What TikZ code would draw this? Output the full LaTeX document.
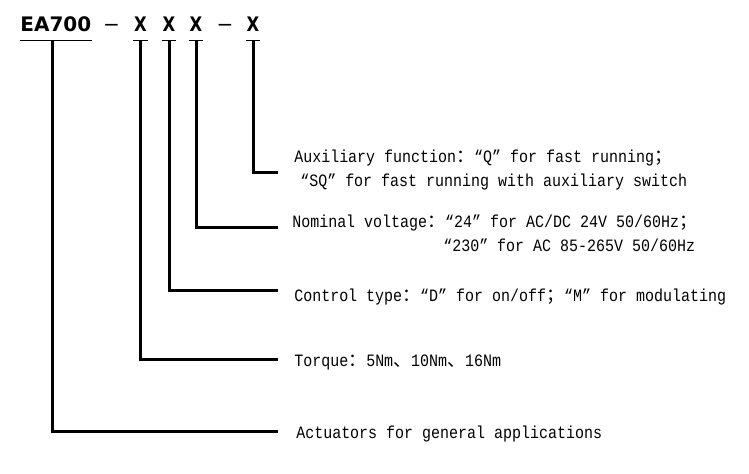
\documentclass[tikz,border=0pt]{standalone}
\usepackage{fontspec}
\setmainfont{Liberation Mono}[FakeStretch=0.865]
\newfontfamily\cjk{Noto Sans CJK SC}
\newfontfamily\headfont{DejaVu Sans}
\newfontfamily\headx{DejaVu Sans}[FakeStretch=0.82]
\newcommand{\cp}[1]{{\cjk\fontsize{13.5pt}{16pt}\selectfont #1}}

\begin{document}
\begin{tikzpicture}[x=0.75pt,y=-0.75pt,
    lead/.style={line width=2.25pt},
    uline/.style={line width=1pt},
    code/.style={font=\headfont\bfseries\fontsize{15pt}{18pt}\selectfont,inner xsep=0.5pt,inner ysep=6pt,anchor=base},
    digit/.style={code,font=\headx\bfseries\fontsize{15pt}{18pt}\selectfont},
    sepmark/.style={font=\headfont\fontsize{15pt}{18pt}\selectfont,inner sep=0pt,anchor=base},
    desc/.style={font=\fontsize{13pt}{16pt}\selectfont,inner sep=0pt,anchor=base west}]
    \useasboundingbox (0,0) rectangle (749,474);
    \node[code,anchor=base west] (ea) at (19.5,32) {EA700};
    \node[sepmark] (d1) at (111.5,32) {−};
    \node[digit] (x1) at (140.5,32) {X};
    \node[digit] (x2) at (169,32) {X};
    \node[digit] (x3) at (196,32) {X};
    \node[sepmark] (d2) at (225,32) {−};
    \node[digit] (x4) at (253,32) {X};
    \foreach \n in {ea,x1,x2,x3,x4}
        \draw[uline] (\n.south west) -- (\n.south east);
    \node[desc] (aux) at (294,162) {Auxiliary function\cp{：}“Q” for fast running\cp{；}};
    \node[desc] (aux2) at (300,186) {“SQ” for fast running with auxiliary switch};
    \node[desc] (volt) at (292,227) {Nominal voltage\cp{：}“24” for AC/DC 24V 50/60Hz\cp{；}};
    \node[desc] (volt2) at (443,251) {“230” for AC 85-265V 50/60Hz};
    \node[desc] (ctrl) at (294,301) {Control type\cp{：}“D” for on/off\cp{；}“M” for modulating};
    \node[desc] (torque) at (294,366) {Torque\cp{：}5Nm\cp{、}10Nm\cp{、}16Nm};
    \node[desc] (act) at (296,438) {Actuators for general applications};
    \coordinate (e4) at (278,173);
    \coordinate (e3) at (278,227);
    \coordinate (e2) at (278,290);
    \coordinate (e1) at (278,359);
    \coordinate (e0) at (278,431);
    \draw[lead] (x4.south) |- (e4);
    \draw[lead] (x3.south) |- (e3);
    \draw[lead] (x2.south) |- (e2);
    \draw[lead] (x1.south) |- (e1);
    \draw[lead] ([xshift=-2.2pt]ea.south) |- (e0);
\end{tikzpicture}
\end{document}
